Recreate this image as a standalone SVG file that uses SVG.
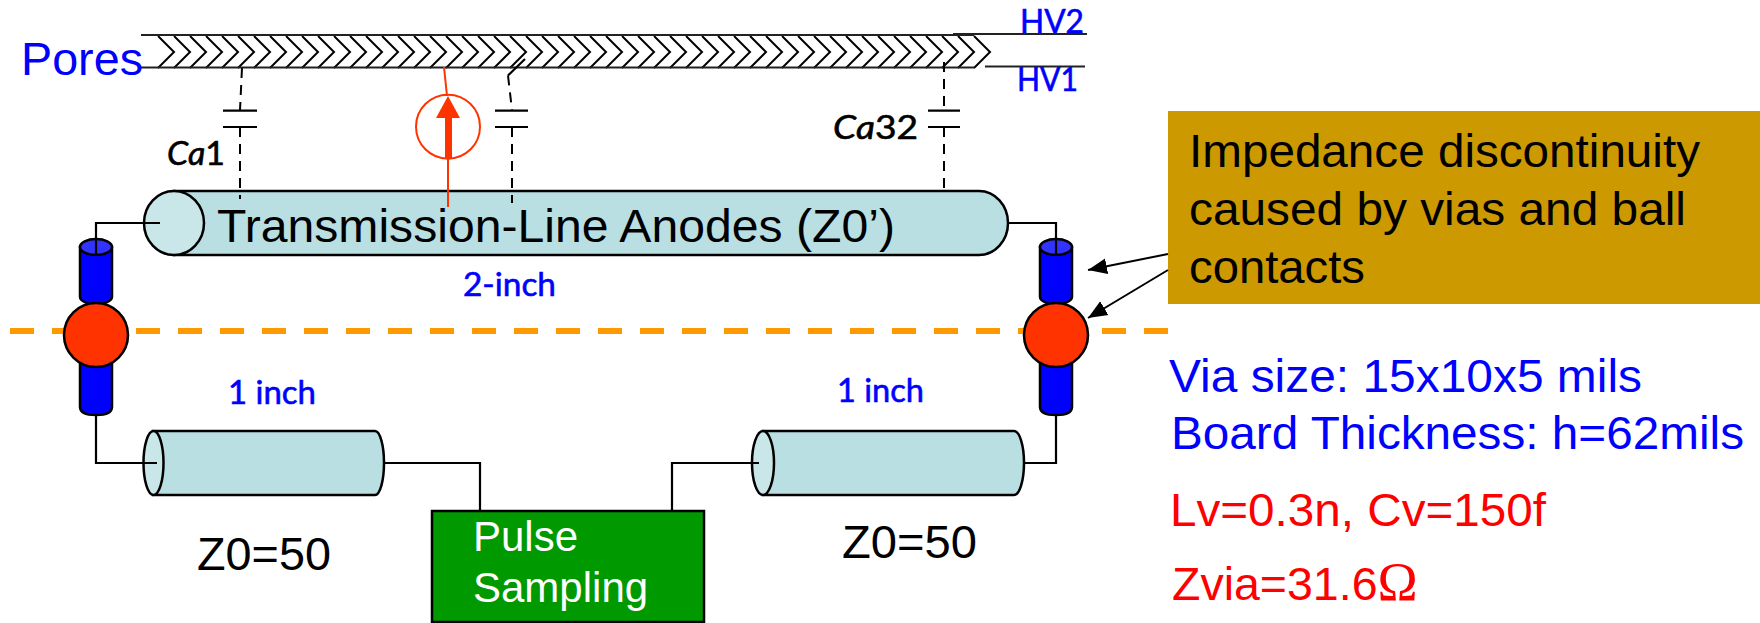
<svg xmlns="http://www.w3.org/2000/svg" width="1760" height="623" viewBox="0 0 1760 623">
<style>
text{font-family:"Liberation Sans",Arial,sans-serif;font-size:46.500px;fill:#000}
.blue{fill:#0000ff}.red{fill:#ff0000}.white{fill:#fff;font-size:42px}
.hand{font-family:"Lato","Liberation Sans",sans-serif;font-size:33px;stroke:#000;stroke-width:.6}
.hand.blue{stroke:#0000ff}
.ital{font-style:italic}
.ol{stroke:#000;stroke-width:2.5}
.tube{fill:#b9dfe3}.cap{fill:#c9e6e8}
.via{fill:#0000ff}.vtop{fill:#3333ff}.ball{fill:#ff3300}
.wire{fill:none;stroke:#000;stroke-width:2.2}
.dash{fill:none;stroke:#000;stroke-width:2;stroke-dasharray:10 7}
.plate{fill:none;stroke:#000;stroke-width:2.2}
.rl{fill:none;stroke:#ff3300;stroke-width:2}
</style>
<defs>
<marker id="ah" markerUnits="userSpaceOnUse" markerWidth="20" markerHeight="18" refX="19" refY="9" orient="auto"><path d="M0 1L19 9L0 17Z" fill="#000"/></marker>
</defs>
<line id="divider" x1="10" y1="331" x2="1168" y2="331" stroke="#ff9900" stroke-width="6" stroke-dasharray="24 18"/>
<g id="pores">
<path d="M158 36l16 16l-16 16m16-32l16 16l-16 16m16-32l16 16l-16 16m16-32l16 16l-16 16m16-32l16 16l-16 16m16-32l16 16l-16 16m16-32l16 16l-16 16m16-32l16 16l-16 16m16-32l16 16l-16 16m16-32l16 16l-16 16m16-32l16 16l-16 16m16-32l16 16l-16 16m16-32l16 16l-16 16m16-32l16 16l-16 16m16-32l16 16l-16 16m16-32l16 16l-16 16m16-32l16 16l-16 16m16-32l16 16l-16 16m16-32l16 16l-16 16m16-32l16 16l-16 16m16-32l16 16l-16 16m16-32l16 16l-16 16m16-32l16 16l-16 16m16-32l16 16l-16 16m16-32l16 16l-16 16m16-32l16 16l-16 16m16-32l16 16l-16 16m16-32l16 16l-16 16m16-32l16 16l-16 16m16-32l16 16l-16 16m16-32l16 16l-16 16m16-32l16 16l-16 16m16-32l16 16l-16 16m16-32l16 16l-16 16m16-32l16 16l-16 16m16-32l16 16l-16 16m16-32l16 16l-16 16m16-32l16 16l-16 16m16-32l16 16l-16 16m16-32l16 16l-16 16m16-32l16 16l-16 16m16-32l16 16l-16 16m16-32l16 16l-16 16m16-32l16 16l-16 16m16-32l16 16l-16 16m16-32l16 16l-16 16m16-32l16 16l-16 16m16-32l16 16l-16 16m16-32l16 16l-16 16m16-32l16 16l-16 16m16-32l16 16l-16 16m16-32l16 16l-16 16" fill="none" stroke="#000" stroke-width="2"/>
<path d="M141 35H974M141 67.500H974M953 34H1087M985 66.500H1085" fill="none" stroke="#222" stroke-width="2"/>
<text class="blue" x="21" y="75" textLength="122" lengthAdjust="spacingAndGlyphs">Pores</text>
<text class="blue hand" x="1020" y="33" textLength="64" lengthAdjust="spacingAndGlyphs">HV2</text>
<text class="blue hand" x="1017" y="91" textLength="61" lengthAdjust="spacingAndGlyphs">HV1</text>
</g>
<g id="anode-line">
<path class="tube ol" d="M174 191H979A29 32 0 0 1 979 255H174Z"/>
<ellipse class="cap ol" cx="174" cy="223" rx="30" ry="32"/>
<text x="217" y="242" textLength="678" lengthAdjust="spacingAndGlyphs">Transmission-Line Anodes (Z0’)</text>
<text class="blue hand" x="463" y="296" textLength="93" lengthAdjust="spacingAndGlyphs">2-inch</text>
</g>
<g id="via-left">
<path class="via ol" d="M80 247V297Q80 302 96 306Q112 302 112 297V247Z"/>
<ellipse class="vtop ol" cx="96" cy="247" rx="16" ry="8"/>
<path class="via ol" d="M80 360V407Q80 415 96 415Q112 415 112 407V360Z"/>
<circle class="ball ol" cx="96" cy="335" r="32"/>
</g>
<g id="via-right">
<path class="via ol" d="M1040 247V297Q1040 302 1056 306Q1072 302 1072 297V247Z"/>
<ellipse class="vtop ol" cx="1056" cy="247" rx="16" ry="8"/>
<path class="via ol" d="M1040 360V407Q1040 415 1056 415Q1072 415 1072 407V360Z"/>
<circle class="ball ol" cx="1056" cy="335" r="32"/>
</g>
<g id="line-left">
<path class="tube ol" d="M153 431H375A9 32 0 0 1 375 495H153Z"/>
<ellipse class="cap ol" cx="153.500" cy="463" rx="10" ry="32"/>
<text class="blue hand" x="228" y="404" textLength="88" lengthAdjust="spacingAndGlyphs">1 inch</text>
<text x="197" y="570" textLength="134" lengthAdjust="spacingAndGlyphs">Z0=50</text>
</g>
<g id="line-right">
<path class="tube ol" d="M763 431H1014A10 32 0 0 1 1014 495H763Z"/>
<ellipse class="cap ol" cx="763" cy="463" rx="11" ry="32"/>
<text class="blue hand" x="837" y="402" textLength="87" lengthAdjust="spacingAndGlyphs">1 inch</text>
<text x="842" y="558" textLength="135" lengthAdjust="spacingAndGlyphs">Z0=50</text>
</g>
<g id="pulse-sampling">
<rect x="432" y="511" width="272" height="111" fill="#009900" stroke="#000" stroke-width="2.500"/>
<text class="white" x="473" y="551">Pulse</text>
<text class="white" x="473" y="602">Sampling</text>
</g>
<g id="note">
<rect x="1168" y="111" width="592" height="193" fill="#cc9900"/>
<text x="1189" y="167" textLength="511" lengthAdjust="spacingAndGlyphs">Impedance discontinuity</text>
<text x="1189" y="225" textLength="497" lengthAdjust="spacingAndGlyphs">caused by vias and ball</text>
<text x="1189" y="283" textLength="176" lengthAdjust="spacingAndGlyphs">contacts</text>
</g>
<g id="specs">
<text class="blue" x="1169" y="392" textLength="473" lengthAdjust="spacingAndGlyphs">Via size: 15x10x5 mils</text>
<text class="blue" x="1171" y="449" textLength="573" lengthAdjust="spacingAndGlyphs">Board Thickness: h=62mils</text>
<text class="red" x="1170" y="526" textLength="376" lengthAdjust="spacingAndGlyphs">Lv=0.3n, Cv=150f</text>
<text class="red" x="1172" y="600">Zvia=31.6<tspan font-family="Liberation Serif" font-size="54">Ω</tspan></text>
</g>
<g id="capacitor-labels">
<text class="hand" x="167" y="165" textLength="58" lengthAdjust="spacingAndGlyphs"><tspan class="ital">Ca</tspan>1</text>
<text class="hand" x="833" y="139" textLength="85" lengthAdjust="spacingAndGlyphs"><tspan class="ital">Ca</tspan>32</text>
</g>
<g id="connectors">
<path class="wire" d="M160 223H96V254M1008 223H1056V254M96 415V463H157M384 463H480V511M672 511V463H759M1024 463H1056V415"/>
<path class="dash" d="M242 68L240 110M240 127V199M508 75.500L512 110M512 127V203M944 62V110M944 127V190"/>
<path class="plate" d="M525 59L508 75.500M223 110.700H257M223 127H257M495 110.700H528M495 127H528M928 110.700H960M928 127H960"/>
<path class="rl" d="M444 67L447 96M448 158V207"/>
<circle class="rl" cx="448" cy="126.700" r="32"/>
<path d="M448 96L460 118H452V158H445V118H436Z" fill="#ff3300"/>
<line x1="1168" y1="254" x2="1088" y2="270" stroke="#000" stroke-width="2" marker-end="url(#ah)"/>
<line x1="1168" y1="270" x2="1088" y2="318" stroke="#000" stroke-width="2" marker-end="url(#ah)"/>
</g>
</svg>
